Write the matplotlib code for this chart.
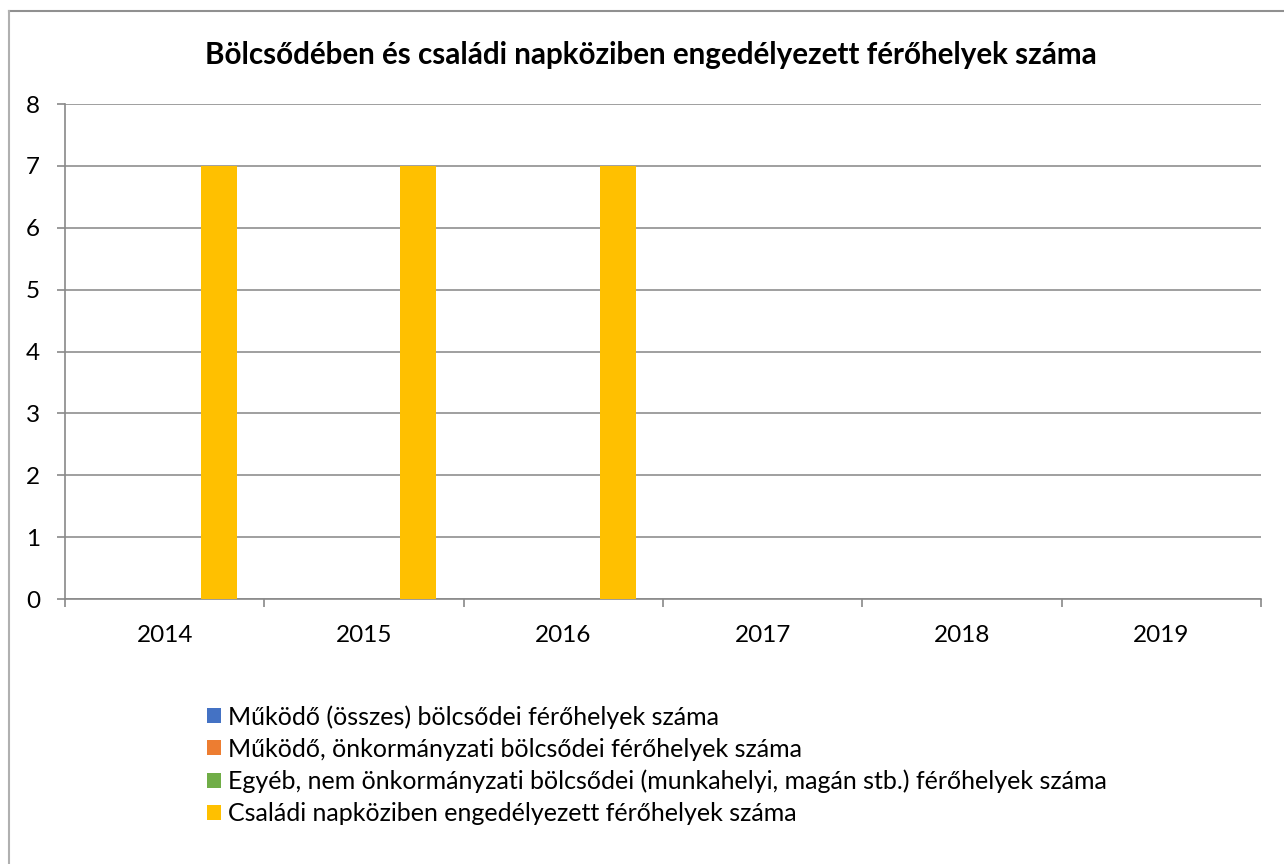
import numpy as np
import matplotlib
matplotlib.use('Agg')
import matplotlib.pyplot as plt
from matplotlib.lines import Line2D

plt.rcParams['font.family'] = ['Lato', 'DejaVu Sans']

# data
years = ['2014', '2015', '2016', '2017', '2018', '2019']
series_names = [
    'Működő (összes) bölcsődei férőhelyek száma',
    'Működő, önkormányzati bölcsődei férőhelyek száma',
    'Egyéb, nem önkormányzati bölcsődei (munkahelyi, magán stb.) férőhelyek száma',
    'Családi napköziben engedélyezett férőhelyek száma',
]
mukodo_osszes = [0, 0, 0, 0, 0, 0]
mukodo_onkorm = [0, 0, 0, 0, 0, 0]
egyeb = [0, 0, 0, 0, 0, 0]
csaladi = [7, 7, 7, 0, 0, 0]
colors = ['#4472C4', '#ED7D31', '#70AD47', '#FFC000']

fig = plt.figure(figsize=(12.84, 8.64), dpi=100)
ax = fig.add_axes([65/1284, 1-599/864, (1261-65)/1284, (599-104)/864])

x = np.arange(len(years))
w = 1/5.5
handles = []
for i, (vals, name) in enumerate(zip([mukodo_osszes, mukodo_onkorm, egyeb, csaladi], series_names)):
    b = ax.bar(x + (i-1.5)*w, vals, w, color=colors[i], linewidth=0, label=name, zorder=3)
    handles.append(b)

ax.set_xlim(-0.5, len(years)-0.5)
ax.set_ylim(0, 8)
ax.set_yticks(range(0, 9))
ax.yaxis.grid(True, color='#8f8f8f', linewidth=1.2, zorder=0)
ax.set_xticks(x)
ax.set_xticklabels(years)
ax.set_xticks(np.arange(-0.5, len(years)), minor=True)
ax.tick_params(axis='x', which='major', length=0, pad=19, labelsize=17.5)
ax.tick_params(axis='x', which='minor', length=6, color='#898989', width=1.2)
ax.tick_params(axis='y', length=6, color='#898989', width=1.2, pad=12, labelsize=17.5)
for s in ['top', 'right']:
    ax.spines[s].set_visible(False)
for s in ['left', 'bottom']:
    ax.spines[s].set_color('#898989')
    ax.spines[s].set_linewidth(1.2)

fig.text(651/1284, 1-55/864, 'Bölcsődében és családi napköziben engedélyezett férőhelyek száma',
         ha='center', va='center', fontsize=21.3, fontweight='bold')

fig.legend(handles=handles, loc='upper left', bbox_to_anchor=(197/1284, 1-695/864),
           frameon=False, fontsize=18, handlelength=0.55, handleheight=0.55,
           handletextpad=0.3, labelspacing=0.36, borderaxespad=0)

# outer chart border (cropped: only top and left visible)
fig.add_artist(Line2D([9/1284, 1], [1-11/864, 1-11/864], color='#909090', linewidth=1.5))
fig.add_artist(Line2D([9/1284, 9/1284], [0, 1-11/864], color='#b0b0b0', linewidth=1.5))

fig.savefig('out.png', dpi=100)
